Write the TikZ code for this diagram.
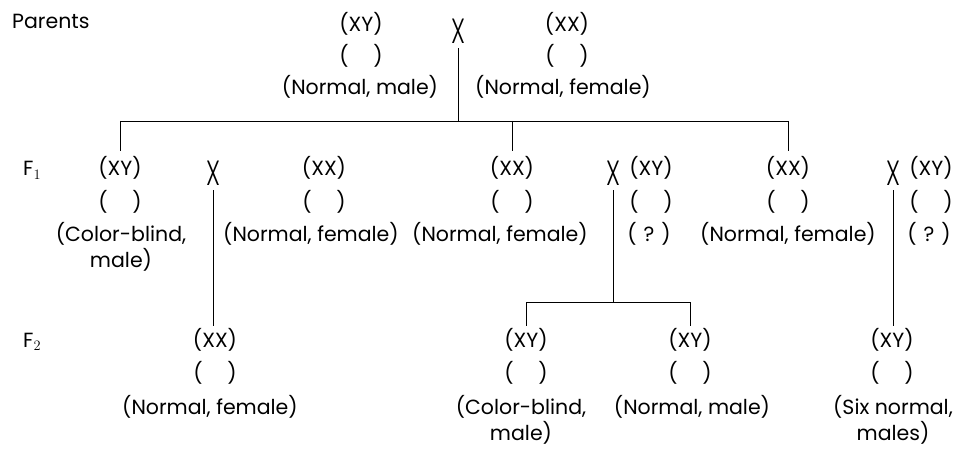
\documentclass[tikz,border=0pt]{standalone}
\usepackage{fontspec}
\usepackage{calc}
\usepackage{graphicx}
\setmainfont{Poppins}
\newfontfamily\crossfont{Poppins Light}

% "( )" and "( ? )" boxes as wide as "(XY)"
\newcommand\blankpair{(\phantom{XY})}
\newcommand\querypair{(\makebox[\widthof{XY}]{?})}
\newcommand\crossmark{\scalebox{0.68}[1]{X}}

\tikzset{
  txt/.style={inner sep=0pt, anchor=base, font=\fontsize{20.5}{26}\selectfont},
  % two-line labels: the base anchor sits on the last line
  lbl/.style={txt, align=center},
  cross/.style={inner sep=0pt, font=\crossfont\fontsize{35}{35}\selectfont},
  wire/.style={line width=0.9pt},
}

\begin{document}
\begin{tikzpicture}[x=1pt,y=-1pt]
\useasboundingbox (0,0) rectangle (966,454);
\fill[white] (0,0) rectangle (966,454);

% ---- generation labels
\node[txt, anchor=base west] (gen0) at (12,29) {Parents};
\node[txt, anchor=base west] (gen1) at (23,176) {F$_1$};
\node[txt, anchor=base west] (gen2) at (23,347) {F$_2$};

% ---- parents
\node[txt] (pmG) at (361,32) {(XY)};
\node[txt] (pmB) at (361,64) {\blankpair};
\node[txt] (pmL) at (360,95) {(Normal, male)};
\node[cross] (px) at (458,31) {\crossmark};
\node[txt] (pfG) at (567,32) {(XX)};
\node[txt] (pfB) at (567,64) {\blankpair};
\node[txt] (pfL) at (563,95) {(Normal, female)};

% ---- F1
\node[txt] (a1G) at (120,176) {(XY)};
\node[txt] (a1B) at (120,210) {\blankpair};
\node[lbl] (a1L) at (121,268) {(Color-blind,\\male)};
\node[cross] (x1) at (213,173) {\crossmark};
\node[txt] (a2G) at (324,176) {(XX)};
\node[txt] (a2B) at (324,210) {\blankpair};
\node[txt] (a2L) at (311,242) {(Normal, female)};

\node[txt] (a3G) at (512,176) {(XX)};
\node[txt] (a3B) at (512,210) {\blankpair};
\node[txt] (a3L) at (500,242) {(Normal, female)};
\node[cross] (x2) at (613,173) {\crossmark};
\node[txt] (a4G) at (651,176) {(XY)};
\node[txt] (a4B) at (651,210) {\blankpair};
\node[txt] (a4Q) at (649,242) {\querypair};

\node[txt] (a5G) at (788,176) {(XX)};
\node[txt] (a5B) at (788,210) {\blankpair};
\node[txt] (a5L) at (788,242) {(Normal, female)};
\node[cross] (x3) at (893,173) {\crossmark};
\node[txt] (a6G) at (931,176) {(XY)};
\node[txt] (a6B) at (931,210) {\blankpair};
\node[txt] (a6Q) at (929,242) {\querypair};

% ---- F2
\node[txt] (b1G) at (215,347) {(XX)};
\node[txt] (b1B) at (215,380) {\blankpair};
\node[txt] (b1L) at (210,414) {(Normal, female)};

\node[txt] (b2G) at (526,347) {(XY)};
\node[txt] (b2B) at (526,380) {\blankpair};
\node[lbl] (b2L) at (521,440) {(Color-blind,\\male)};
\node[txt] (b3G) at (690,347) {(XY)};
\node[txt] (b3B) at (690,380) {\blankpair};
\node[txt] (b3L) at (692,414) {(Normal, male)};

\node[txt] (b4G) at (892,347) {(XY)};
\node[txt] (b4B) at (892,380) {\blankpair};
\node[lbl] (b4L) at (893,440) {(Six normal,\\males)};

% ---- connectors
\coordinate (bar1) at (0,121);
\coordinate (bar2) at (0,302);

\draw[wire, shorten <=5pt] (px.south) -- (px.south |- bar1);
\draw[wire] (a1G.north |- bar1) -- (a5G.north |- bar1);
\foreach \n in {a1G,a3G,a5G}
  \draw[wire, shorten >=6pt] (\n.north |- bar1) -- (\n.north);

\draw[wire, shorten <=5pt, shorten >=2pt] (x1.south) -- (x1.south |- b1G.north);

\draw[wire, shorten <=5pt] (x2.south) -- (x2.south |- bar2);
\draw[wire] (b2G.north |- bar2) -- (b3G.north |- bar2);
\foreach \n in {b2G,b3G}
  \draw[wire, shorten >=2pt] (\n.north |- bar2) -- (\n.north);

\draw[wire, shorten <=5pt, shorten >=2pt] (x3.south) -- (x3.south |- b4G.north);
\end{tikzpicture}
\end{document}
